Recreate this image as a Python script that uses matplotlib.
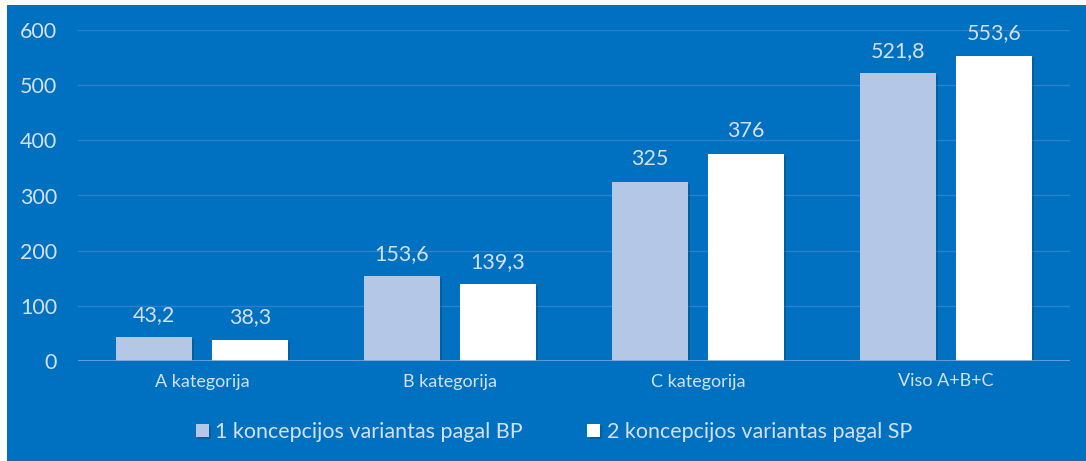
import matplotlib
matplotlib.use("Agg")
import matplotlib.pyplot as plt
from matplotlib.patches import Rectangle
import matplotlib.patheffects as pe
import numpy as np

categories = ["A kategorija", "B kategorija", "C kategorija", "Viso A+B+C"]
series1_name = "1 koncepcijos variantas pagal BP"
series2_name = "2 koncepcijos variantas pagal SP"
series1 = [43.2, 153.6, 325, 521.8]
series2 = [38.3, 139.3, 376, 553.6]
series1_labels = ["43,2", "153,6", "325", "521,8"]
series2_labels = ["38,3", "139,3", "376", "553,6"]
yticks = [0, 100, 200, 300, 400, 500, 600]

plt.rcParams['font.family'] = ['Lato', 'DejaVu Sans']

BG = "#0070C0"
TXT = "#D6E0F0"
C1 = "#B4C7E7"
C2 = "#FFFFFF"

fig = plt.figure(figsize=(10.86, 4.61), dpi=100)
fig.patch.set_facecolor("white")
fig.add_artist(Rectangle((7/1086, 0), 1 - 7/1086, 1 - 5/461, transform=fig.transFigure,
                         facecolor=BG, edgecolor="none", zorder=0))

ax = fig.add_axes([78/1086, 1 - 361/461, (1070 - 78)/1086, (361 - 30)/461])
ax.set_facecolor("none")
x = np.arange(len(categories))
w = 0.306
off = 0.194
shadow = [pe.SimplePatchShadow(offset=(1.5, -1.5), shadow_rgbFace="#003a66", alpha=0.35), pe.Normal()]
b1 = ax.bar(x - off, series1, w, color=C1, zorder=3, label=series1_name)
b2 = ax.bar(x + off, series2, w, color=C2, zorder=3, label=series2_name)
for rects in (b1, b2):
    for r in rects:
        r.set_path_effects(shadow)
for rects, labs in ((b1, series1_labels), (b2, series2_labels)):
    for r, t in zip(rects, labs):
        ax.annotate(t, (r.get_x() + r.get_width()/2, r.get_height()), xytext=(0, 9),
                    textcoords="offset points", ha="center", va="bottom",
                    color=TXT, fontsize=15.5)

ax.set_xlim(-0.5, len(categories) - 0.5)
ax.set_ylim(0, 600)
ax.set_yticks(yticks)
ax.set_xticks(x)
ax.set_xticklabels(categories)
ax.tick_params(axis='both', length=0, colors=TXT)
ax.tick_params(axis='y', labelsize=15.5, pad=15)
ax.tick_params(axis='x', labelsize=13, pad=9)
for lab in ax.get_yticklabels():
    lab.set_horizontalalignment('right')
ax.grid(axis='y', color="#2A82CB", linewidth=1, zorder=1)
for s in ax.spines.values():
    s.set_visible(False)
ax.axhline(0, color="#6FA8DC", linewidth=1.2, zorder=4)

leg = fig.legend(handles=[b1, b2], loc="center", bbox_to_anchor=(554/1086, 1 - 432/461),
                 ncol=2, frameon=False, fontsize=15.5, handlelength=0.6, handleheight=0.6,
                 handletextpad=0.3, columnspacing=3.0)
for t in leg.get_texts():
    t.set_color(TXT)

fig.savefig("out.png", dpi=100, facecolor=fig.get_facecolor())
